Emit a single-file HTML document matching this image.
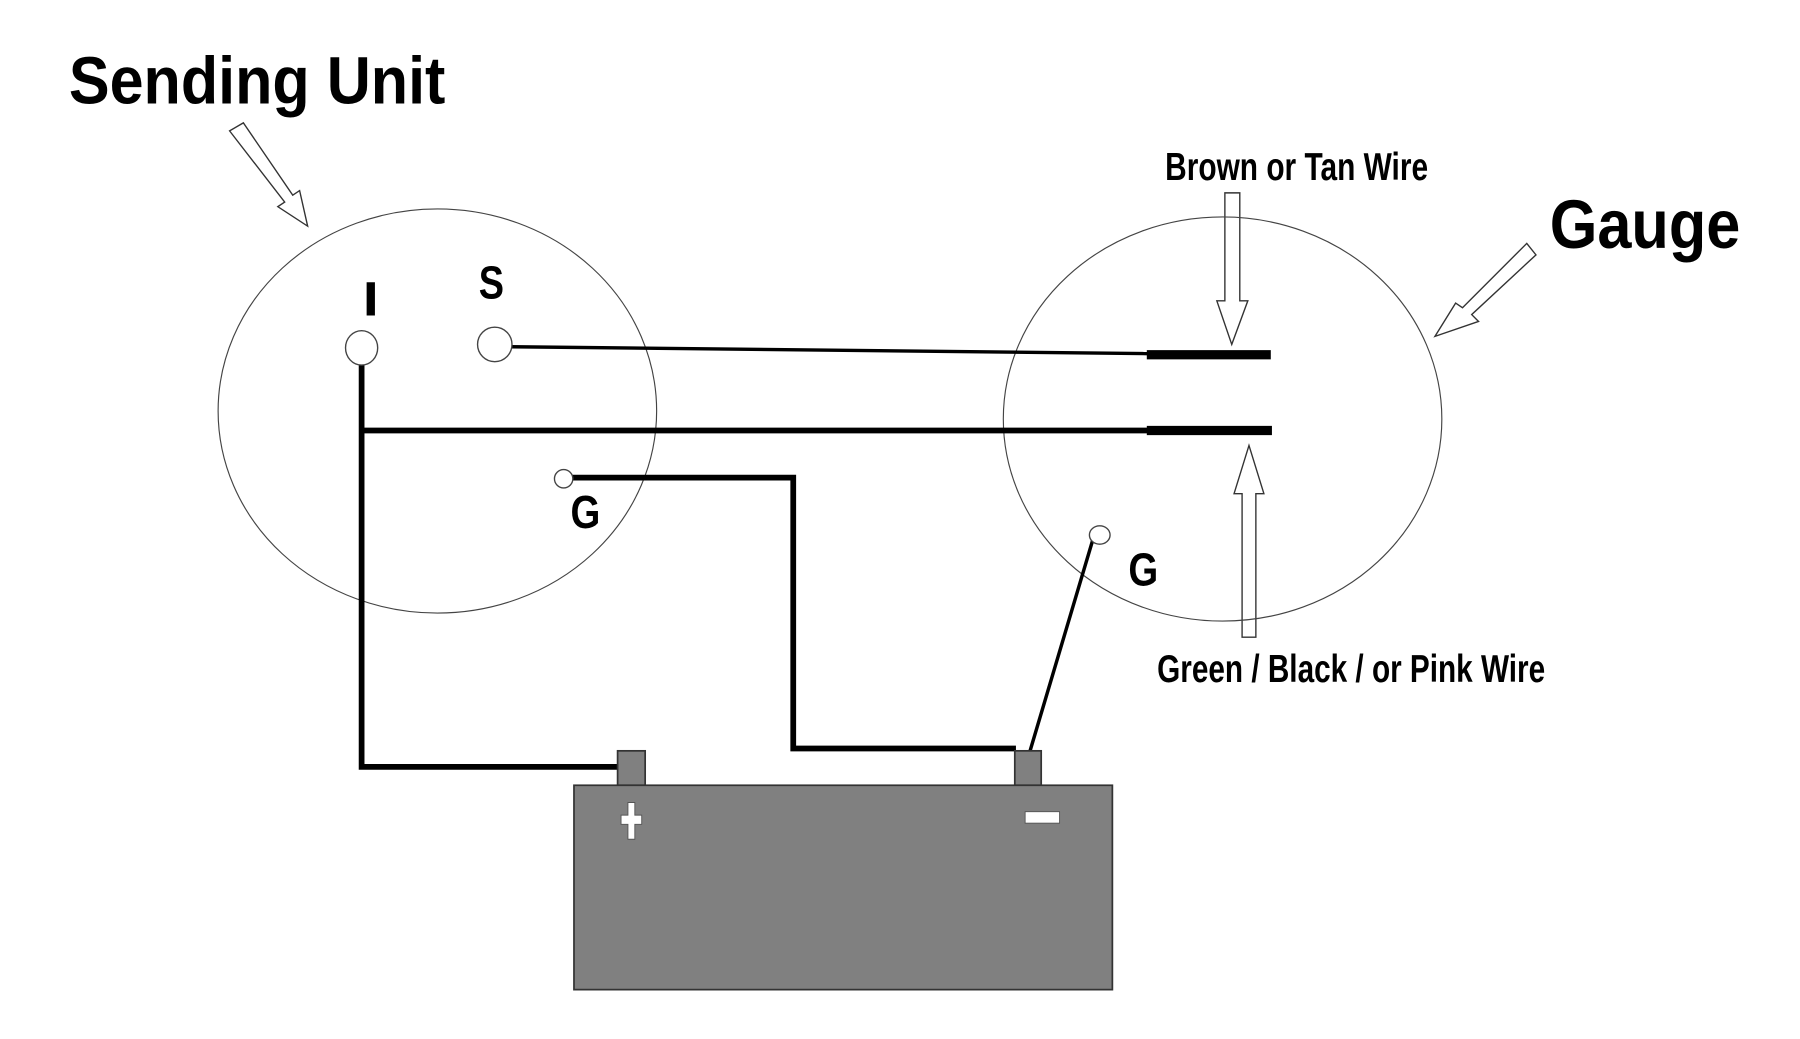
<!DOCTYPE html>
<html><head><meta charset="utf-8"><style>html,body{margin:0;padding:0;background:#fff;}svg{display:block;}</style></head>
<body>
<svg width="1800" height="1039" viewBox="0 0 1568 905" preserveAspectRatio="none" xmlns="http://www.w3.org/2000/svg" font-family="Liberation Sans, sans-serif" font-weight="bold">
<rect width="1568" height="905" fill="#fff"/>
<text x="60" y="90" font-size="58" textLength="328" lengthAdjust="spacingAndGlyphs">Sending Unit</text>
<text x="1350" y="216" font-size="60" textLength="166" lengthAdjust="spacingAndGlyphs">Gauge</text>
<text x="1015" y="157" font-size="34" textLength="229" lengthAdjust="spacingAndGlyphs">Brown or Tan Wire</text>
<text x="1008" y="594" font-size="34" textLength="338" lengthAdjust="spacingAndGlyphs">Green / Black / or Pink Wire</text>
<text x="316" y="275" font-size="42" textLength="14" lengthAdjust="spacingAndGlyphs">I</text>
<text x="417" y="260" font-size="40" textLength="22" lengthAdjust="spacingAndGlyphs">S</text>
<text x="497" y="460" font-size="40" textLength="26" lengthAdjust="spacingAndGlyphs">G</text>
<text x="983" y="510" font-size="40" textLength="26" lengthAdjust="spacingAndGlyphs">G</text>
<g fill="#fff" stroke="#333" stroke-width="1.2">
<polygon points="200,114 212,107 255,170 261,166 268,197 242,180 248,176"/>
<polygon points="1330,212 1338,222 1282,274 1288,280 1250,293 1268,264 1274,268"/>
<polygon points="1067,168 1080,168 1080,262 1087,262 1073,300 1060,262 1067,262"/>
<polygon points="1082,555 1094,555 1094,430 1101,430 1088,388 1075,430 1082,430"/>
</g>
<ellipse cx="381" cy="358" rx="191" ry="176" fill="none" stroke="#444" stroke-width="1"/>
<ellipse cx="1065" cy="365" rx="191" ry="176" fill="none" stroke="#444" stroke-width="1"/>
<g stroke="#000" fill="none">
<polyline points="445,302 1000,308" stroke-width="3"/>
<line x1="999" y1="309" x2="1107" y2="309" stroke-width="8"/>
<polyline points="315,318 315,668 540,668" stroke-width="5"/>
<line x1="315" y1="375" x2="1000" y2="375" stroke-width="5"/>
<line x1="999" y1="375" x2="1108" y2="375" stroke-width="8"/>
<polyline points="498,416 691,416 691,652 885,652" stroke-width="5"/>
<line x1="952" y1="470" x2="897" y2="655" stroke-width="3"/>
</g>
<g fill="#fff" stroke="#444" stroke-width="1.2">
<ellipse cx="315" cy="303" rx="14" ry="15"/>
<ellipse cx="431" cy="300" rx="15" ry="15"/>
<ellipse cx="491" cy="417" rx="8" ry="8"/>
<ellipse cx="958" cy="466" rx="9" ry="8"/>
</g>
<g fill="#808080" stroke="#333" stroke-width="1.5">
<rect x="538" y="654" width="24" height="30"/>
<rect x="884" y="654" width="23" height="30"/>
<rect x="500" y="684" width="469" height="178"/>
</g>
<g fill="#fff" stroke="#555" stroke-width="0.8">
<polygon points="547,699 553,699 553,710 559,710 559,718 553,718 553,731 547,731 547,718 541,718 541,710 547,710"/>
<rect x="893" y="707" width="30" height="10"/>
</g>
</svg>
</body></html>
